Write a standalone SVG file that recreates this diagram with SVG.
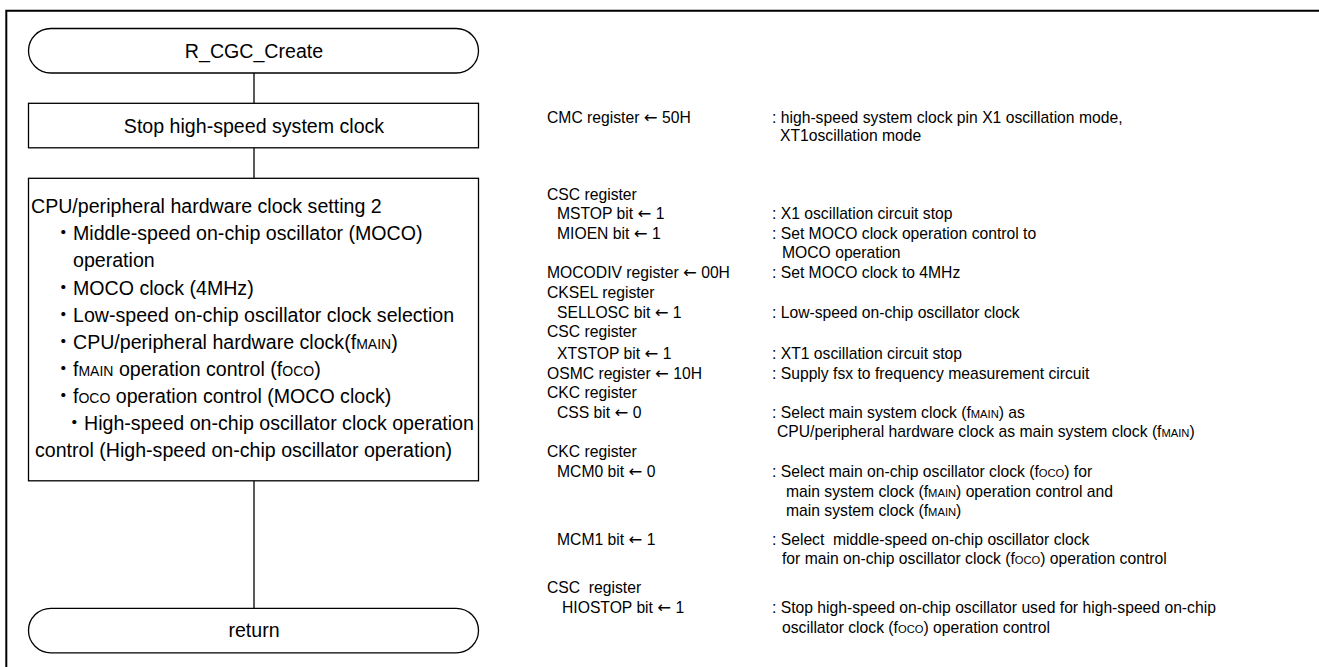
<svg xmlns="http://www.w3.org/2000/svg" width="1319" height="667" viewBox="0 0 1319 667">
<style>
.shape{fill:#fff;stroke:#000;stroke-width:1.3}
.conn{stroke:#000;stroke-width:1.3;fill:none}
.frame{stroke:#000;stroke-width:2;fill:none}
.t{font-family:"Liberation Sans",Arial,"Noto Sans CJK JP",sans-serif;font-size:19.6px;fill:#000}
.c{text-anchor:middle}
.r{font-family:"Liberation Sans",Arial,"DejaVu Sans","Noto Sans CJK JP",sans-serif;font-size:15.7px;fill:#000}
.a{font-family:"DejaVu Sans",sans-serif;font-size:16.5px}
.sl{font-size:14px}
.sr{font-size:11.2px}
</style>
<rect width="1319" height="667" fill="#fff"/>
<path class="frame" d="M1319,10.7 H6.3 V667"/>
<g id="connectors">
<line class="conn" x1="254" y1="73" x2="254" y2="103"/>
<line class="conn" x1="254" y1="148" x2="254" y2="178"/>
<line class="conn" x1="254" y1="481" x2="254" y2="608"/>
</g>
<g id="start">
<rect class="shape" x="28.5" y="28.5" width="450" height="44.5" rx="22.3"/>
<text class="t c" x="254" y="58.3">R_CGC_Create</text>
</g>
<g id="stop-hs">
<rect class="shape" x="28.5" y="103.3" width="450" height="44.5"/>
<text class="t c" x="254" y="132.7">Stop high-speed system clock</text>
</g>
<g id="clock-setting">
<rect class="shape" x="28.5" y="178.3" width="450" height="302.5"/>
<text class="t" x="31" y="213">CPU/peripheral hardware clock setting 2</text>
<text class="t" x="53.4" y="240">・Middle-speed on-chip oscillator (MOCO)</text>
<text class="t" x="73" y="267">operation</text>
<text class="t" x="53.4" y="294.5">・MOCO clock (4MHz)</text>
<text class="t" x="53.4" y="322">・Low-speed on-chip oscillator clock selection</text>
<text class="t" x="53.4" y="348.5">・CPU/peripheral hardware clock(f<tspan class="sl">MAIN</tspan>)</text>
<text class="t" x="53.4" y="376">・f<tspan class="sl">MAIN</tspan> operation control (f<tspan class="sl">OCO</tspan>)</text>
<text class="t" x="53.4" y="403">・f<tspan class="sl">OCO</tspan> operation control (MOCO clock)</text>
<text class="t" x="64.4" y="430">・High-speed on-chip oscillator clock operation</text>
<text class="t" x="35" y="457">control (High-speed on-chip oscillator operation)</text>
</g>
<g id="return">
<rect class="shape" x="28.5" y="608.3" width="450" height="44.5" rx="22.3"/>
<text class="t c" x="254" y="636.5">return</text>
</g>
<g id="notes">
<text class="r" x="547" y="123">CMC register <tspan class="a">←</tspan> 50H</text>
<text class="r" x="772" y="123">: high-speed system clock pin X1 oscillation mode,</text>
<text class="r" x="780" y="140.5">XT1oscillation mode</text>
<text class="r" x="547" y="200">CSC register</text>
<text class="r" x="557" y="218.5">MSTOP bit <tspan class="a">←</tspan> 1</text>
<text class="r" x="772" y="218.5">: X1 oscillation circuit stop</text>
<text class="r" x="557" y="238.5">MIOEN bit <tspan class="a">←</tspan> 1</text>
<text class="r" x="772" y="238.5">: Set MOCO clock operation control to</text>
<text class="r" x="782" y="258.3">MOCO operation</text>
<text class="r" x="547" y="278.3">MOCODIV register <tspan class="a">←</tspan> 00H</text>
<text class="r" x="772" y="278.3">: Set MOCO clock to 4MHz</text>
<text class="r" x="547" y="297.5">CKSEL register</text>
<text class="r" x="557" y="318">SELLOSC bit <tspan class="a">←</tspan> 1</text>
<text class="r" x="772" y="318">: Low-speed on-chip oscillator clock</text>
<text class="r" x="547" y="337.3">CSC register</text>
<text class="r" x="557" y="359">XTSTOP bit <tspan class="a">←</tspan> 1</text>
<text class="r" x="772" y="359">: XT1 oscillation circuit stop</text>
<text class="r" x="547" y="379">OSMC register <tspan class="a">←</tspan> 10H</text>
<text class="r" x="772" y="379">: Supply fsx to frequency measurement circuit</text>
<text class="r" x="547" y="398">CKC register</text>
<text class="r" x="557" y="417.5">CSS bit <tspan class="a">←</tspan> 0</text>
<text class="r" x="772" y="417.5">: Select main system clock (f<tspan class="sr">MAIN</tspan>) as</text>
<text class="r" x="777" y="437">CPU/peripheral hardware clock as main system clock (f<tspan class="sr">MAIN</tspan>)</text>
<text class="r" x="547" y="457">CKC register</text>
<text class="r" x="557" y="477">MCM0 bit <tspan class="a">←</tspan> 0</text>
<text class="r" x="772" y="477">: Select main on-chip oscillator clock (f<tspan class="sr">OCO</tspan>) for</text>
<text class="r" x="786" y="496.5">main system clock (f<tspan class="sr">MAIN</tspan>) operation control and</text>
<text class="r" x="786" y="515.5">main system clock (f<tspan class="sr">MAIN</tspan>)</text>
<text class="r" x="557" y="545">MCM1 bit <tspan class="a">←</tspan> 1</text>
<text class="r" x="772" y="545" xml:space="preserve">: Select  middle-speed on-chip oscillator clock</text>
<text class="r" x="782" y="564">for main on-chip oscillator clock (f<tspan class="sr">OCO</tspan>) operation control</text>
<text class="r" x="547" y="593" xml:space="preserve">CSC  register</text>
<text class="r" x="562" y="613">HIOSTOP bit <tspan class="a">←</tspan> 1</text>
<text class="r" x="772" y="613">: Stop high-speed on-chip oscillator used for high-speed on-chip</text>
<text class="r" x="782" y="633">oscillator clock (f<tspan class="sr">OCO</tspan>) operation control</text>
</g>
</svg>
